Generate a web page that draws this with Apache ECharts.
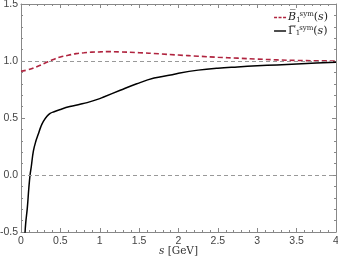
<!DOCTYPE html>
<html><head><meta charset="utf-8">
<script src="https://cdn.jsdelivr.net/npm/echarts@6/dist/echarts.min.js"></script>
<style>html,body{margin:0;padding:0;background:#fff}#c{width:338px;height:259px}</style>
</head><body><div id="c"></div>
<script>
const xTicks = [0, 0.5, 1, 1.5, 2, 2.5, 3, 3.5, 4];
const yTicks = [-0.5, 0.0, 0.5, 1.0, 1.5];
const gammaS = [0.05,0.06,0.08,0.10,0.115,0.13,0.157,0.19,0.22,0.25,0.284,0.33,0.37,0.42,0.5,0.62,0.75,0.84,1.0,1.05,1.26,1.47,1.69,1.9,2.0,2.25,2.5,2.75,3.0,3.25,3.5,3.75,4.0];
const gammaV = [-0.52,-0.42,-0.29,-0.11,0.0,0.07,0.21,0.30,0.36,0.42,0.47,0.515,0.54,0.555,0.575,0.60,0.62,0.635,0.67,0.684,0.743,0.80,0.85,0.877,0.893,0.92,0.937,0.948,0.958,0.966,0.974,0.982,0.99];
const bS = [0,0.1,0.2,0.3,0.4,0.5,0.6,0.7,0.8,0.9,1.0,1.1,1.25,1.5,1.75,2.0,2.25,2.5,2.75,3.0,3.25,3.5,3.75,4.0];
const bV = [0.91,0.925,0.95,0.98,1.01,1.035,1.05,1.065,1.072,1.078,1.08,1.082,1.08,1.073,1.063,1.052,1.042,1.033,1.025,1.017,1.01,1.005,1.002,1.0];
const refLines = [1.0, 0.0];

const chart = echarts.init(document.getElementById('c'));
const frame = '#888';
const lblFont = {color:'#444', fontSize:10.5, fontFamily:'Liberation Sans, Arial, sans-serif'};
const axBase = (extra) => Object.assign({
  type:'value', axisLine:{show:true, onZero:false, lineStyle:{color:frame, width:1}},
  axisTick:{show:true, inside:true, length:4, lineStyle:{color:frame}},
  minorTick:{show:true, splitNumber:5, length:2, lineStyle:{color:frame}},
  splitLine:{show:false}
}, extra);
const serif = 'DejaVu Serif, Liberation Serif, serif';
const option = {
  animation:false,
  grid:{left:21, right:2, top:4, bottom:27, containLabel:false, outerBoundsMode:'none'},
  xAxis:[
    axBase({min:xTicks[0], max:xTicks[xTicks.length-1], interval:0.5, position:'bottom',
      axisLabel:Object.assign({margin:4, formatter:v=>String(v)}, lblFont),
      name:'{i|s} [GeV]', nameLocation:'middle', nameGap:14, nameMoveOverlap:false,
      nameTextStyle:{color:'#333', fontSize:10.5, fontFamily:serif, rich:{i:{fontStyle:'italic', fontSize:10.5, fontFamily:serif, color:'#333'}}}}),
    axBase({min:0, max:4, interval:0.5, position:'top', axisLabel:{show:false}})
  ],
  yAxis:[
    axBase({min:yTicks[0], max:yTicks[yTicks.length-1], interval:0.5, position:'left',
      axisLabel:Object.assign({margin:3, formatter:v=>v.toFixed(1)}, lblFont)}),
    axBase({min:-0.5, max:1.5, interval:0.5, position:'right', axisLabel:{show:false}})
  ],
  legend:{
    right:5, top:6, orient:'vertical', itemGap:1, itemWidth:12, itemHeight:8,
    data:[
      {name:'B', icon:'path://M0,3.3h3v1.4h-3z M4.5,3.3h3v1.4h-3z M9,3.3h3v1.4h-3z'},
      {name:'G', icon:'path://M0,3.3h12v1.4h-12z'}
    ],
    formatter: n => n==='B' ? '{it|B\u0305}{sub|1}{sup|sym}{t|(}{it|s}{t|)}' : '{t|\u0393\u0305}{sub|1}{sup|sym}{t|(}{it|s}{t|)}',
    textStyle:{padding:[0,0,0,-3], rich:{
      t:{fontFamily:serif, fontSize:11, color:'#222'},
      it:{fontFamily:serif, fontStyle:'italic', fontSize:11, color:'#222'},
      sub:{fontFamily:serif, fontSize:7, color:'#222', padding:[5,0,0,0]},
      sup:{fontFamily:serif, fontSize:7, color:'#222', padding:[0,0,6,-1]}
    }}
  },
  series:[
    {name:'ref', type:'line', data:[], silent:true,
      markLine:{symbol:'none', silent:true, label:{show:false},
        lineStyle:{color:'#999', type:[4,3], width:1},
        data:refLines.map(v=>({yAxis:v}))}},
    {name:'B', type:'line', smooth:true, showSymbol:false, symbol:'none',
      data:bS.map((s,i)=>[s,bV[i]]),
      lineStyle:{color:'#b0243f', width:1.6, type:[5,3]}, itemStyle:{color:'#b0243f'}},
    {name:'G', type:'line', smooth:0.4, showSymbol:false, symbol:'none', clip:true,
      data:gammaS.map((s,i)=>[s,gammaV[i]]),
      lineStyle:{color:'#000', width:1.5}, itemStyle:{color:'#000'}}
  ]
};
chart.setOption(option);
</script></body></html>
